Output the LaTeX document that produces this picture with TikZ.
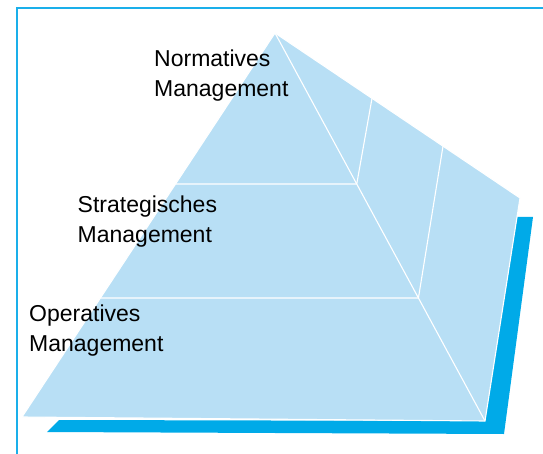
\documentclass[tikz,border=0pt]{standalone}
\usepackage{fontspec}
\setmainfont{Liberation Sans}
\usetikzlibrary{calc}
\definecolor{pyrfill}{HTML}{B8DFF5}
\definecolor{shadowblue}{HTML}{00AAE8}
\definecolor{framecol}{HTML}{1AAFEA}
\begin{document}
\begin{tikzpicture}[x=1pt,y=-1pt,
  framestyle/.style={draw=framecol,line width=2pt},
  face/.style={fill=pyrfill,draw=white,line width=1.1pt,line join=miter},
  divline/.style={draw=white,line width=1.1pt},
  label/.style={anchor=base west,inner sep=0pt,align=left,
    font=\fontsize{23pt}{30pt}\selectfont}]
\useasboundingbox (0,0) rectangle (543,454);
% frame
\coordinate (ftr) at (543,8);
\coordinate (ftl) at (17,8);
\coordinate (fbl) at (17,454);
\draw[framestyle] (ftr) -- (ftl) -- (fbl);
% shadow
\coordinate (s1) at (47,432);
\coordinate (s2) at (504,434);
\coordinate (s3) at (533,217);
\coordinate (s4) at (516,217);
\coordinate (s5) at (485,421);
\coordinate (s6) at (59,420);
\fill[shadowblue] (s1) -- (s2) -- (s3) -- (s4) -- (s5) -- (s6) -- cycle;
% pyramid
\coordinate (A) at (275,33);
\coordinate (R) at (520,198);
\coordinate (BR) at (485,421);
\coordinate (BL) at (22,417);
\path[face] (A) -- (R) -- (BR) -- (BL) -- cycle;
\coordinate (l1) at ($(A)!0.3932!(BL)$);
\coordinate (l2) at ($(A)!0.6901!(BL)$);
\coordinate (r1) at ($(A)!0.3892!(BR)$);
\coordinate (r2) at ($(A)!0.6830!(BR)$);
\coordinate (t1) at ($(A)!0.3959!(R)$);
\coordinate (t2) at ($(A)!0.6857!(R)$);
\draw[divline] (l1) -- (r1);
\draw[divline] (l2) -- (r2);
\draw[divline] (A) -- (BR);
\draw[divline] (r1) -- (t1);
\draw[divline] (r2) -- (t2);
% labels (base anchor = baseline of last line)
\node[label] (norm) at (154,96.7) {Normatives\\Management};
\node[label] (strat) at (77.5,242.7) {Strategisches\\Management};
\node[label] (oper) at (29,351.7) {Operatives\\Management};
\end{tikzpicture}
\end{document}
